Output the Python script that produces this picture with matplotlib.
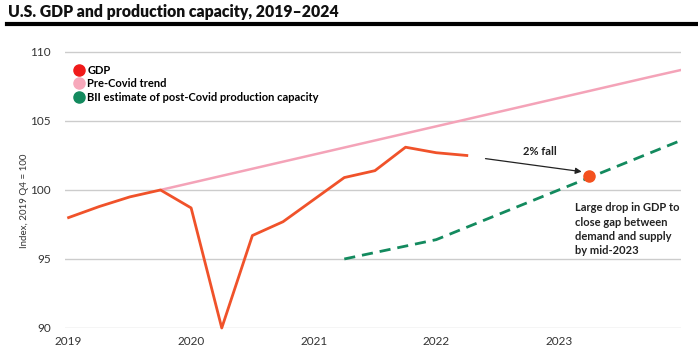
import numpy as np
import matplotlib.pyplot as plt
from matplotlib.lines import Line2D

# quarterly GDP index, 2019 Q4 = 100
gdp_x = [2019.0, 2019.25, 2019.5, 2019.75, 2020.0, 2020.25, 2020.5, 2020.75,
         2021.0, 2021.25, 2021.5, 2021.75, 2022.0, 2022.25]
gdp_y = [98.0, 98.8, 99.5, 100.0, 98.7, 90.0, 96.7, 97.7,
         99.3, 100.9, 101.4, 103.1, 102.7, 102.5]

trend_x = [2019.75, 2020.75, 2021.75, 2022.75, 2023.75, 2024.0]
trend_y = [100.0, 102.05, 104.1, 106.15, 108.2, 108.7]

bii_x = [2021.25, 2022.0, 2023.0, 2024.0]
bii_y = [95.0, 96.4, 100.0, 103.6]

dot_x, dot_y = 2023.25, 101.0

years = [2019, 2020, 2021, 2022, 2023]
yticks = [90, 95, 100, 105, 110]

font = "Lato"
plt.rcParams['font.family'] = [font, 'DejaVu Sans']

fig = plt.figure(figsize=(6.98, 3.5), dpi=100)
ax = fig.add_axes([0.093, 0.0629, 0.883, 0.828])

ax.plot(trend_x, trend_y, color="#f4a3b8", lw=1.8, zorder=2)
ax.plot(bii_x, bii_y, color="#138a5e", lw=2.0, ls=(0, (4, 2.5)), zorder=2)
ax.plot(gdp_x, gdp_y, color="#f0522a", lw=2.0, zorder=3, clip_on=False)
ax.plot([dot_x], [dot_y], "o", color="#f4511e", ms=8, zorder=4)

ax.annotate("", xy=(2023.21, 101.3), xytext=(2022.38, 102.3),
            arrowprops=dict(arrowstyle="-|>", color="#222222", lw=0.9,
                            mutation_scale=9))
ax.text(2022.85, 102.8, "2% fall", fontsize=8, fontweight="bold",
        ha="center", va="center", color="#222222")
ax.text(2023.13, 99.1, "Large drop in GDP to\nclose gap between\ndemand and supply\nby mid-2023",
        fontsize=8, fontweight="bold", ha="left", va="top", color="#222222",
        linespacing=1.35)

ax.set_xlim(2018.97, 2024.0)
ax.set_ylim(90, 111)
ax.set_xticks(years)
ax.set_xticklabels([str(y) for y in years])
ax.set_yticks(yticks)
ax.tick_params(length=0, labelsize=8.5, labelcolor="#333333")
ax.tick_params(axis="y", pad=10)
ax.tick_params(axis="x", pad=6)
ax.grid(axis="y", color="#cccccc", lw=1.0)
ax.set_axisbelow(True)
for s in ax.spines.values():
    s.set_visible(False)
ax.set_ylabel("Index, 2019 Q4 = 100", fontsize=7, color="#333333")
ax.yaxis.set_label_coords(-0.058, 0.44)

handles = [Line2D([], [], marker="o", ls="", color=c, ms=8)
           for c in ["#f01a1a", "#f7a8bb", "#138a5e"]]
labels = ["GDP", "Pre-Covid trend", "BII estimate of post-Covid production capacity"]
ax.legend(handles, labels, loc="upper left", bbox_to_anchor=(0.0, 0.935),
          frameon=False, handletextpad=0.1, labelspacing=0.22,
          handlelength=1.2, borderaxespad=0.3,
          prop=dict(family=font, weight="bold", size=8))

fig.text(0.011, 0.965, "U.S. GDP and production capacity, 2019\u20132024",
         fontsize=11.3, fontweight="heavy", ha="left", va="center", color="#111111")
fig.add_artist(Line2D([0.01, 1.0], [0.932, 0.932], color="black", lw=3,
                      transform=fig.transFigure))

fig.savefig("out.png", dpi=100)
